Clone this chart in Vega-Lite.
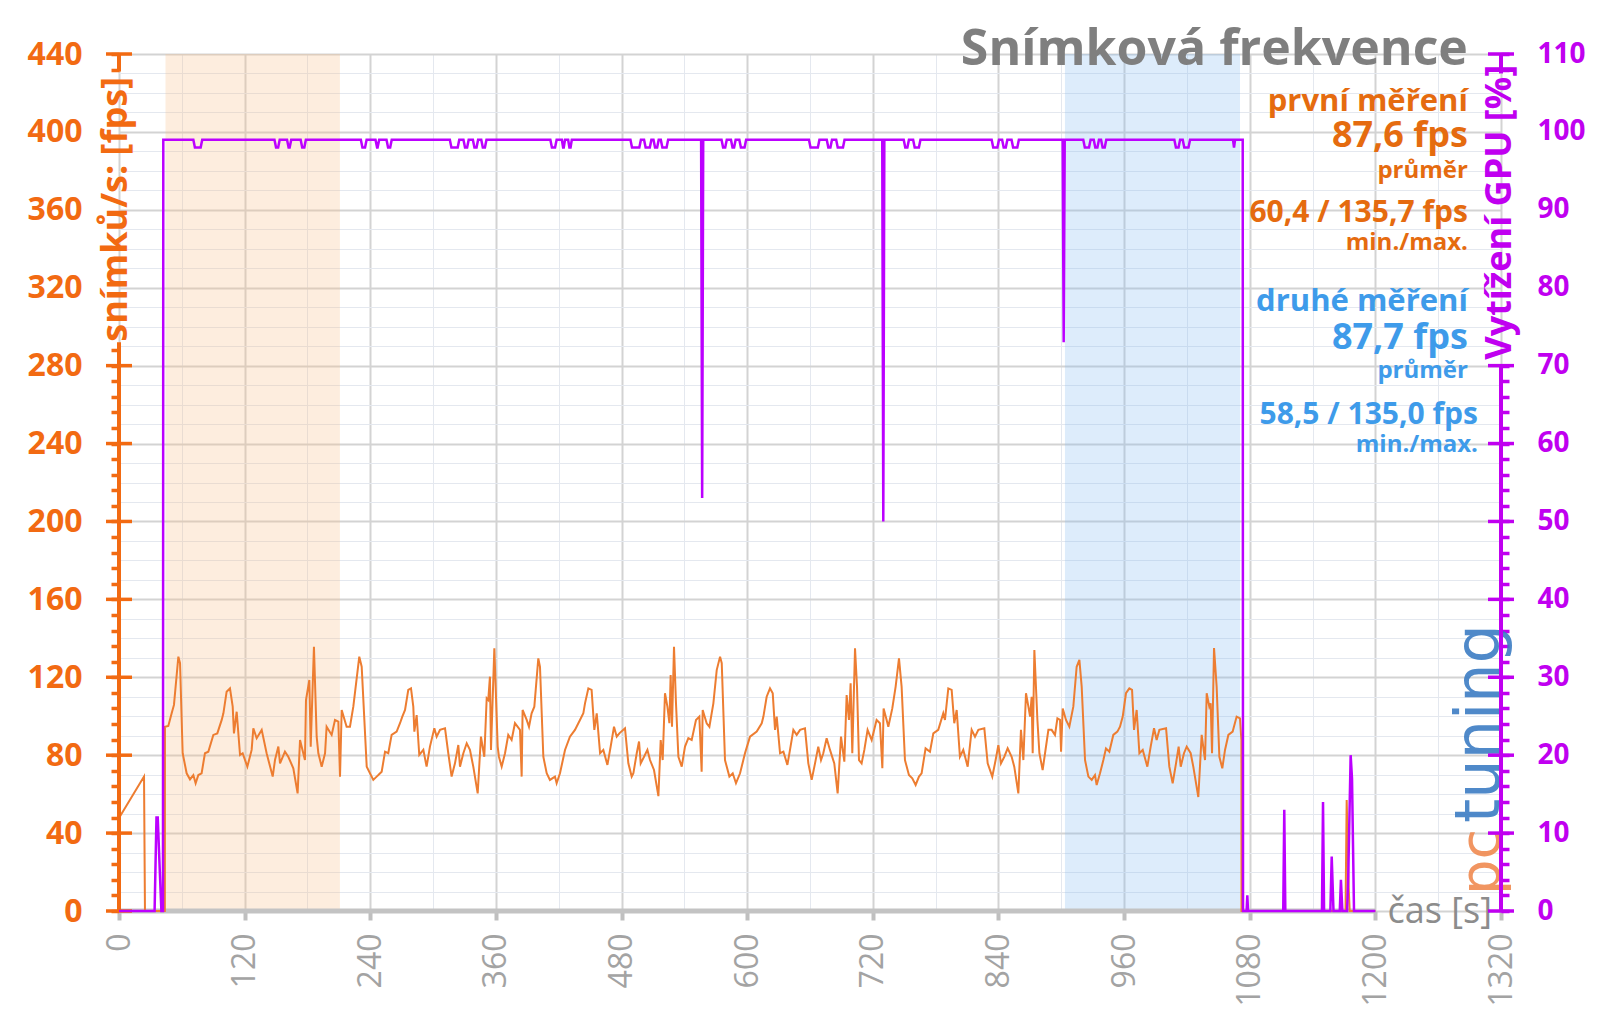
{
  "$schema": "https://vega.github.io/schema/vega-lite/v6.json",
  "width": 1382,
  "height": 857,
  "autosize": {"type": "none"},
  "padding": {"left": 119, "top": 54, "right": 99, "bottom": 98},
  "background": "white",
  "config": {"view": {"stroke": null}, "font": "Open Sans"},
  "datasets": {
    "runs": [
      {"run": "první měření", "start": 44.4, "end": 211},
      {"run": "druhé měření", "start": 903.5, "end": 1070.7}
    ],
    "fpsTicks": [{"v":0},{"v":40},{"v":80},{"v":120},{"v":160},{"v":200},{"v":240},{"v":280},{"v":440}],
    "gpuTicks": [{"v":0},{"v":10},{"v":20},{"v":30},{"v":40},{"v":50},{"v":60},{"v":70},{"v":110}],
    "fps": [
      {"t":0,"fps":47.7},{"t":23.9,"fps":69},{"t":24.8,"fps":0},{"t":43.8,"fps":0},{"t":43.9,"fps":94.6},
      {"t":47.1,"fps":95},{"t":50.3,"fps":101.5},{"t":52.5,"fps":105.8},{"t":56.7,"fps":130.6},{"t":58.3,"fps":127.2},
      {"t":60.8,"fps":81},{"t":64.6,"fps":70.7},{"t":67.8,"fps":67.6},{"t":71,"fps":69.8},{"t":73.2,"fps":65.6},
      {"t":75.8,"fps":69.8},{"t":78.9,"fps":70.7},{"t":82.1,"fps":81},{"t":85.3,"fps":81.8},{"t":90.1,"fps":90.4},
      {"t":93.9,"fps":91.2},{"t":98.1,"fps":98.1},{"t":99.7,"fps":101.5},{"t":102.8,"fps":112.6},{"t":106,"fps":114.3},
      {"t":108.6,"fps":104.9},{"t":109.8,"fps":91.2},{"t":112.4,"fps":102.3},{"t":115.6,"fps":80.1},{"t":118.1,"fps":81},
      {"t":122.6,"fps":74.1},{"t":126.7,"fps":82.7},{"t":128.3,"fps":93.8},{"t":131.5,"fps":88.7},{"t":136.3,"fps":93},
      {"t":141,"fps":81},{"t":146.8,"fps":69},{"t":149,"fps":77.5},{"t":152.2,"fps":84.4},{"t":153.8,"fps":75.8},
      {"t":158.5,"fps":81.8},{"t":161.7,"fps":79.2},{"t":166.5,"fps":73.3},{"t":170.6,"fps":60.4},{"t":172.9,"fps":87.8},
      {"t":177.6,"fps":77.5},{"t":178.6,"fps":108.3},{"t":181.8,"fps":118.6},{"t":183.1,"fps":84.4},{"t":186.2,"fps":135.7},
      {"t":188.8,"fps":89.5},{"t":190.4,"fps":81},{"t":193.6,"fps":74.1},{"t":196.8,"fps":81},{"t":198.3,"fps":94.6},
      {"t":203.1,"fps":90.4},{"t":206.3,"fps":98.1},{"t":209.5,"fps":97.2},{"t":211.1,"fps":69},{"t":212.7,"fps":103.2},
      {"t":217.4,"fps":94.6},{"t":220.6,"fps":94.6},{"t":223.8,"fps":104.9},{"t":229.5,"fps":130.6},{"t":231.8,"fps":125.4},
      {"t":236.6,"fps":74.1},{"t":242.9,"fps":67.3},{"t":246.1,"fps":69},{"t":247.7,"fps":69.8},{"t":250.9,"fps":71.5},
      {"t":254.1,"fps":81.8},{"t":257.2,"fps":81},{"t":260.4,"fps":90.4},{"t":265.2,"fps":92.1},{"t":268.4,"fps":96.4},
      {"t":270.6,"fps":99.8},{"t":273.2,"fps":103.2},{"t":276.3,"fps":113.5},{"t":278.9,"fps":114.3},{"t":281.1,"fps":104.9},
      {"t":282.1,"fps":92.1},{"t":284.3,"fps":100.6},{"t":286.8,"fps":80.1},{"t":290.7,"fps":82.7},{"t":293.8,"fps":74.1},
      {"t":297,"fps":84.4},{"t":301.2,"fps":93.8},{"t":303.4,"fps":89.5},{"t":306.6,"fps":93},{"t":311.4,"fps":93.8},
      {"t":314.5,"fps":81},{"t":317.7,"fps":69},{"t":320.9,"fps":75.8},{"t":324.1,"fps":85.2},{"t":325.7,"fps":74.1},
      {"t":328.9,"fps":81},{"t":332.1,"fps":86.1},{"t":335.2,"fps":82.7},{"t":338.4,"fps":74.1},{"t":342.6,"fps":60.4},
      {"t":345.7,"fps":89.5},{"t":348.9,"fps":79.2},{"t":351.2,"fps":109.2},{"t":352.7,"fps":108.3},{"t":354.3,"fps":120.3},
      {"t":355.3,"fps":82.7},{"t":358.5,"fps":134.9},{"t":361.7,"fps":84.4},{"t":362.9,"fps":79.2},{"t":365.5,"fps":74.1},
      {"t":368.7,"fps":81},{"t":371.8,"fps":90.4},{"t":375,"fps":87.8},{"t":378.2,"fps":96.4},{"t":383,"fps":93},
      {"t":384.6,"fps":69},{"t":385.5,"fps":103.2},{"t":389.4,"fps":98.1},{"t":391.6,"fps":94.6},{"t":394.1,"fps":101.5},
      {"t":396.7,"fps":104.9},{"t":400.5,"fps":129.7},{"t":402.1,"fps":125.4},{"t":405.3,"fps":79.2},{"t":408.5,"fps":70.7},
      {"t":411.6,"fps":67.3},{"t":416.4,"fps":69},{"t":418,"fps":65.6},{"t":421.2,"fps":70.7},{"t":426,"fps":82.7},
      {"t":430.7,"fps":89.5},{"t":435.5,"fps":93},{"t":440.3,"fps":98.1},{"t":443.5,"fps":101.5},{"t":445.1,"fps":106.6},
      {"t":448.3,"fps":114.3},{"t":451.4,"fps":113.5},{"t":454,"fps":93},{"t":456.3,"fps":101.5},{"t":459.5,"fps":81},
      {"t":462.6,"fps":82.7},{"t":466.5,"fps":75},{"t":469.6,"fps":84.4},{"t":472.8,"fps":94.6},{"t":475.4,"fps":89.5},
      {"t":477.9,"fps":91.2},{"t":483.3,"fps":93.8},{"t":486.5,"fps":75.8},{"t":489.7,"fps":69},{"t":491.3,"fps":70.7},
      {"t":494.5,"fps":81},{"t":496.7,"fps":87},{"t":498.3,"fps":75.8},{"t":501.5,"fps":79.2},{"t":504.7,"fps":82.7},
      {"t":507.2,"fps":77.5},{"t":511,"fps":72.4},{"t":515.2,"fps":59},{"t":517.4,"fps":87.8},{"t":519.3,"fps":77.5},
      {"t":521.5,"fps":111.8},{"t":523.8,"fps":104.9},{"t":525.7,"fps":96.4},{"t":526.9,"fps":121.2},{"t":528.2,"fps":94.6},
      {"t":530.1,"fps":135.7},{"t":532,"fps":106.6},{"t":534.3,"fps":79.2},{"t":537.5,"fps":74.1},{"t":540.6,"fps":84.4},
      {"t":543.8,"fps":88.7},{"t":547,"fps":87.8},{"t":551.1,"fps":98.1},{"t":554.3,"fps":99.8},{"t":556.5,"fps":71.5},
      {"t":557.5,"fps":103.2},{"t":561.3,"fps":96.4},{"t":563.9,"fps":94.6},{"t":567.7,"fps":106.6},{"t":570.9,"fps":123.7},
      {"t":574.1,"fps":130.6},{"t":575.7,"fps":127.2},{"t":578.8,"fps":77.5},{"t":583,"fps":69},{"t":586.2,"fps":70.7},
      {"t":589.3,"fps":65.6},{"t":593.2,"fps":70.7},{"t":597.9,"fps":81},{"t":602.7,"fps":89.5},{"t":609.1,"fps":92.1},
      {"t":613.9,"fps":96.4},{"t":615.5,"fps":99.8},{"t":618.6,"fps":110},{"t":621.8,"fps":114.3},{"t":624.4,"fps":111.8},
      {"t":626.6,"fps":93},{"t":628.2,"fps":99.8},{"t":631.4,"fps":81},{"t":634.6,"fps":81.8},{"t":638.4,"fps":75},
      {"t":640.9,"fps":82.7},{"t":644.1,"fps":93},{"t":647.3,"fps":90.4},{"t":650.5,"fps":93},{"t":655.2,"fps":93.8},
      {"t":658.4,"fps":75.8},{"t":661.6,"fps":67.3},{"t":664.8,"fps":75.8},{"t":667.9,"fps":84.4},{"t":670.5,"fps":77.5},
      {"t":672.7,"fps":81},{"t":675.9,"fps":88.7},{"t":679.1,"fps":82.7},{"t":683.2,"fps":75.8},{"t":686.4,"fps":60.4},
      {"t":689.6,"fps":89.5},{"t":692.8,"fps":76.7},{"t":695,"fps":110.9},{"t":697.2,"fps":98.1},{"t":698.8,"fps":116.9},
      {"t":700.4,"fps":81},{"t":703,"fps":134.9},{"t":704.9,"fps":115.2},{"t":706.8,"fps":77.5},{"t":709.3,"fps":75.8},
      {"t":711.9,"fps":82.7},{"t":715,"fps":93},{"t":718.9,"fps":87.8},{"t":723.6,"fps":98.1},{"t":726.8,"fps":96.4},
      {"t":729.1,"fps":73.3},{"t":730.3,"fps":104},{"t":733.2,"fps":98.1},{"t":734.8,"fps":94.6},{"t":738.6,"fps":104},
      {"t":741.8,"fps":115.2},{"t":745,"fps":129.7},{"t":747.5,"fps":115.2},{"t":750.7,"fps":77.5},{"t":754.5,"fps":69.8},
      {"t":757.7,"fps":68.1},{"t":760.9,"fps":64.7},{"t":764.1,"fps":69},{"t":766.6,"fps":70.7},{"t":770.4,"fps":83.5},
      {"t":774.6,"fps":81.8},{"t":777.8,"fps":91.2},{"t":782.5,"fps":93},{"t":787.3,"fps":101.5},{"t":788.9,"fps":98.1},
      {"t":792.1,"fps":114.3},{"t":795.3,"fps":113.5},{"t":797.8,"fps":96.4},{"t":800.1,"fps":103.2},{"t":803.2,"fps":79.2},
      {"t":806.4,"fps":82.7},{"t":810.6,"fps":74.1},{"t":814.4,"fps":93},{"t":817.6,"fps":89.5},{"t":820.8,"fps":93},
      {"t":826.5,"fps":93.8},{"t":829.7,"fps":75.8},{"t":834.1,"fps":69},{"t":837.3,"fps":77.5},{"t":839.9,"fps":85.2},
      {"t":842.4,"fps":75.8},{"t":845.6,"fps":79.2},{"t":848.8,"fps":83.5},{"t":852.6,"fps":79.2},{"t":855.1,"fps":74.1},
      {"t":859,"fps":60.4},{"t":861.5,"fps":93},{"t":863.8,"fps":77.5},{"t":866.3,"fps":111.8},{"t":868.6,"fps":104.9},
      {"t":870.2,"fps":99.8},{"t":871.7,"fps":110},{"t":872.7,"fps":81},{"t":874.3,"fps":134},{"t":877.2,"fps":98.1},
      {"t":879.1,"fps":81},{"t":882.2,"fps":72.4},{"t":884.5,"fps":81},{"t":887.7,"fps":93},{"t":890.8,"fps":93},
      {"t":894,"fps":90.4},{"t":896.3,"fps":98.9},{"t":898.8,"fps":98.1},{"t":899.8,"fps":81.8},{"t":901.4,"fps":104},
      {"t":904.5,"fps":98.1},{"t":907.7,"fps":94.6},{"t":911.5,"fps":104.9},{"t":914.7,"fps":125.4},{"t":917.3,"fps":128.9},
      {"t":919.5,"fps":115.2},{"t":922.7,"fps":77.5},{"t":925.9,"fps":69},{"t":929.1,"fps":67.3},{"t":932.2,"fps":69.8},
      {"t":933.8,"fps":64.7},{"t":937,"fps":70.7},{"t":940.2,"fps":77.5},{"t":942.7,"fps":83.5},{"t":945.9,"fps":81.8},
      {"t":949.7,"fps":90.4},{"t":953.6,"fps":92.1},{"t":956.1,"fps":94.6},{"t":958.7,"fps":99.8},{"t":961.8,"fps":111.8},
      {"t":965,"fps":114.3},{"t":967.6,"fps":113.5},{"t":969.5,"fps":93},{"t":972,"fps":103.2},{"t":974.6,"fps":81},
      {"t":977.8,"fps":82.7},{"t":982.2,"fps":74.1},{"t":985.4,"fps":84.4},{"t":988.6,"fps":93.8},{"t":991.1,"fps":87.8},
      {"t":993.7,"fps":93},{"t":1000.1,"fps":93.8},{"t":1003.2,"fps":74.1},{"t":1006.4,"fps":65.6},{"t":1009.6,"fps":75.8},
      {"t":1012.1,"fps":84.4},{"t":1014.1,"fps":74.1},{"t":1017.2,"fps":81},{"t":1019.8,"fps":84.4},{"t":1023.6,"fps":81},
      {"t":1026.1,"fps":74.1},{"t":1030.9,"fps":58.5},{"t":1034.1,"fps":90.4},{"t":1037.3,"fps":77.5},{"t":1038.9,"fps":111.8},
      {"t":1041.4,"fps":104.9},{"t":1042.7,"fps":106.6},{"t":1044,"fps":81},{"t":1045.9,"fps":135},{"t":1048.4,"fps":115.2},
      {"t":1051,"fps":79.2},{"t":1053.8,"fps":73.3},{"t":1056.4,"fps":82.7},{"t":1059.6,"fps":90.4},{"t":1063.7,"fps":92.1},
      {"t":1067.5,"fps":99.8},{"t":1070.7,"fps":98.9},{"t":1072,"fps":87.8},{"t":1072.1,"fps":0},{"t":1171.5,"fps":0},
      {"t":1172.6,"fps":57},{"t":1174.5,"fps":12},{"t":1175.5,"fps":0},{"t":1200,"fps":0}
    ],
    "gpu": [
      {"t":0,"gpu":0},{"t":34,"gpu":0},{"t":35.8,"gpu":12},{"t":37,"gpu":12},{"t":39,"gpu":5},{"t":40.5,"gpu":0},{"t":42,"gpu":0},{"t":42.3,"gpu":99},
      {"t":71,"gpu":99},{"t":72.5,"gpu":98},{"t":78,"gpu":98},{"t":79.5,"gpu":99},
      {"t":148.5,"gpu":99},{"t":150,"gpu":98},{"t":152,"gpu":98},{"t":153.5,"gpu":99},
      {"t":160.5,"gpu":99},{"t":162,"gpu":98},{"t":163,"gpu":98},{"t":164.5,"gpu":99},
      {"t":173.5,"gpu":99},{"t":175,"gpu":98},{"t":177,"gpu":98},{"t":178.5,"gpu":99},
      {"t":231,"gpu":99},{"t":232.5,"gpu":98},{"t":235,"gpu":98},{"t":236.5,"gpu":99},
      {"t":245,"gpu":99},{"t":246.5,"gpu":98},{"t":247,"gpu":98},{"t":248.5,"gpu":99},
      {"t":255.5,"gpu":99},{"t":257,"gpu":98},{"t":259,"gpu":98},{"t":260.5,"gpu":99},
      {"t":316,"gpu":99},{"t":317.5,"gpu":98},{"t":323.5,"gpu":98},{"t":325,"gpu":99},
      {"t":329,"gpu":99},{"t":330.5,"gpu":98},{"t":332.5,"gpu":98},{"t":334,"gpu":99},
      {"t":338,"gpu":99},{"t":339.5,"gpu":98},{"t":341.5,"gpu":98},{"t":343,"gpu":99},
      {"t":346,"gpu":99},{"t":347.5,"gpu":98},{"t":349.5,"gpu":98},{"t":351,"gpu":99},
      {"t":412,"gpu":99},{"t":413.5,"gpu":98},{"t":416.5,"gpu":98},{"t":418,"gpu":99},
      {"t":423,"gpu":99},{"t":424.2,"gpu":98},{"t":424.8,"gpu":98},{"t":426,"gpu":99},
      {"t":429,"gpu":99},{"t":430.2,"gpu":98},{"t":431.3,"gpu":98},{"t":432.5,"gpu":99},
      {"t":488.5,"gpu":99},{"t":490,"gpu":98},{"t":497,"gpu":98},{"t":498.5,"gpu":99},
      {"t":501.5,"gpu":99},{"t":503,"gpu":98},{"t":507,"gpu":98},{"t":508.5,"gpu":99},
      {"t":510.5,"gpu":99},{"t":512,"gpu":98},{"t":514,"gpu":98},{"t":515.5,"gpu":99},
      {"t":517.5,"gpu":99},{"t":519,"gpu":98},{"t":523,"gpu":98},{"t":524.5,"gpu":99},
      {"t":556,"gpu":99},{"t":557,"gpu":53},{"t":558,"gpu":99},
      {"t":575.5,"gpu":99},{"t":577,"gpu":98},{"t":579,"gpu":98},{"t":580.5,"gpu":99},
      {"t":584.5,"gpu":99},{"t":586,"gpu":98},{"t":587.5,"gpu":98},{"t":589,"gpu":99},
      {"t":592.5,"gpu":99},{"t":594,"gpu":98},{"t":597.5,"gpu":98},{"t":599,"gpu":99},
      {"t":659,"gpu":99},{"t":660.5,"gpu":98},{"t":667.5,"gpu":98},{"t":669,"gpu":99},
      {"t":676,"gpu":99},{"t":677.5,"gpu":98},{"t":679.5,"gpu":98},{"t":681,"gpu":99},
      {"t":685,"gpu":99},{"t":686.5,"gpu":98},{"t":691.5,"gpu":98},{"t":693,"gpu":99},
      {"t":729,"gpu":99},{"t":730,"gpu":50},{"t":731,"gpu":99},
      {"t":749.5,"gpu":99},{"t":751,"gpu":98},{"t":753,"gpu":98},{"t":754.5,"gpu":99},
      {"t":758.5,"gpu":99},{"t":760,"gpu":98},{"t":764,"gpu":98},{"t":765.5,"gpu":99},
      {"t":833.5,"gpu":99},{"t":835,"gpu":98},{"t":839,"gpu":98},{"t":840.5,"gpu":99},
      {"t":843.5,"gpu":99},{"t":845,"gpu":98},{"t":847,"gpu":98},{"t":848.5,"gpu":99},
      {"t":852.5,"gpu":99},{"t":854,"gpu":98},{"t":858,"gpu":98},{"t":859.5,"gpu":99},
      {"t":901.3,"gpu":99},{"t":902.3,"gpu":73},{"t":903.3,"gpu":99},
      {"t":921,"gpu":99},{"t":922.5,"gpu":98},{"t":926.5,"gpu":98},{"t":928,"gpu":99},
      {"t":931,"gpu":99},{"t":932.5,"gpu":98},{"t":934.5,"gpu":98},{"t":936,"gpu":99},
      {"t":938,"gpu":99},{"t":939.5,"gpu":98},{"t":941.5,"gpu":98},{"t":943,"gpu":99},
      {"t":1008,"gpu":99},{"t":1009.5,"gpu":98},{"t":1012,"gpu":98},{"t":1013.5,"gpu":99},
      {"t":1016,"gpu":99},{"t":1017.5,"gpu":98},{"t":1021.5,"gpu":98},{"t":1023,"gpu":99},
      {"t":1064,"gpu":99},{"t":1065,"gpu":98},{"t":1066,"gpu":99},
      {"t":1073.3,"gpu":99},{"t":1073.6,"gpu":0},
      {"t":1077,"gpu":0},{"t":1077.7,"gpu":2},{"t":1078.4,"gpu":0},
      {"t":1112,"gpu":0},{"t":1113,"gpu":13},{"t":1114,"gpu":0},
      {"t":1149,"gpu":0},{"t":1150,"gpu":14},{"t":1151,"gpu":0},
      {"t":1157,"gpu":0},{"t":1158.3,"gpu":7},{"t":1160,"gpu":0},
      {"t":1166,"gpu":0},{"t":1167.1,"gpu":4},{"t":1168.5,"gpu":0},
      {"t":1173,"gpu":0},{"t":1174.1,"gpu":4.5},{"t":1176.4,"gpu":20},{"t":1177.7,"gpu":17},{"t":1179.6,"gpu":0},
      {"t":1200,"gpu":0}
    ]
  },
  "layer": [
    {
      "data": {"name": "runs"},
      "mark": {"type": "rect", "fillOpacity": 0.28},
      "encoding": {
        "x": {"field": "start", "type": "quantitative", "scale": {"domain": [0, 1320], "nice": false, "zero": false}},
        "x2": {"field": "end"},
        "color": {"field": "run", "type": "nominal", "scale": {"domain": ["první měření", "druhé měření"], "range": ["#F8BF89", "#86BBF1"]}, "legend": null}
      }
    },
    {
      "data": {"values": [{}]},
      "mark": {"type": "rule", "color": "#C3C3C3", "strokeWidth": 5},
      "encoding": {"x": {"datum": 0}, "x2": {"datum": 1200}, "y": {"datum": 0, "scale": {"domain": [0, 440], "nice": false}, "axis": null}}
    },
    {
      "data": {"name": "fps"},
      "mark": {"type": "line", "color": "#ED7D31", "strokeWidth": 2},
      "encoding": {
        "x": {
          "field": "t", "type": "quantitative",
          "scale": {"domain": [0, 1320], "nice": false, "zero": false},
          "axis": {
            "values": [0,15,30,45,60,75,90,105,120,135,150,165,180,195,210,225,240,255,270,285,300,315,330,345,360,375,390,405,420,435,450,465,480,495,510,525,540,555,570,585,600,615,630,645,660,675,690,705,720,735,750,765,780,795,810,825,840,855,870,885,900,915,930,945,960,975,990,1005,1020,1035,1050,1065,1080,1095,1110,1125,1140,1155,1170,1185,1200,1215,1230,1245,1260,1275,1290,1305,1320],
            "format": "d",
            "grid": true,
            "gridColor": {"condition": {"test": "datum.value % 120 === 0", "value": "#D3D3D3"}, "value": "#E4E8EF"},
            "gridWidth": {"condition": {"test": "datum.value % 120 === 0", "value": 2}, "value": 1},
            "domain": false,
            "ticks": true,
            "tickColor": "#BFBFBF",
            "tickWidth": 4,
            "tickSize": 9,
            "tickOpacity": {"condition": {"test": "datum.value % 120 === 0", "value": 1}, "value": 0},
            "labelExpr": "datum.value % 120 === 0 ? datum.label : ''",
            "labelAngle": 270,
            "labelAlign": "right",
            "labelBaseline": "middle",
            "labelFont": "Open Sans",
            "labelFontSize": 32,
            "labelColor": "#A3A3A3",
            "labelPadding": 13,
            "labelOverlap": false,
            "labelBound": false,
            "labelFlush": false,
            "title": "čas [s]",
            "titleX": 1268,
            "titleY": 11,
            "titleAlign": "left",
            "titleBaseline": "alphabetic",
            "titleAngle": 0,
            "titleFont": "Open Sans",
            "titleFontSize": 36,
            "titleFontWeight": "normal",
            "titleColor": "#8C8C8C"
          }
        },
        "y": {
          "field": "fps", "type": "quantitative",
          "scale": {"domain": [0, 440], "nice": false},
          "axis": {
            "orient": "left",
            "values": [0,8,10,16,20,24,30,32,40,48,50,56,60,64,70,72,80,88,90,96,100,104,110,112,120,128,130,136,140,144,150,152,160,168,170,176,180,184,190,192,200,208,210,216,220,224,230,232,240,248,250,256,260,264,270,272,280,288,290,296,300,304,310,312,320,328,330,336,340,344,350,352,360,368,370,376,380,384,390,392,400,408,410,416,420,424,430,432,440],
            "format": "d",
            "grid": true,
            "gridColor": {"condition": {"test": "datum.value % 40 === 0", "value": "#D3D3D3"}, "value": "#E4E8EF"},
            "gridWidth": {"condition": {"test": "datum.value % 40 === 0", "value": 2}, "value": 1},
            "gridOpacity": {"condition": {"test": "datum.value % 10 === 0", "value": 1}, "value": 0},
            "domain": false,
            "ticks": true,
            "tickColor": "#F26A12",
            "tickWidth": 3.5,
            "tickSize": 8,
            "tickOpacity": {"condition": {"test": "datum.value % 8 === 0 && (datum.value <= 292 || datum.value >= 431)", "value": 1}, "value": 0},
            "labelExpr": "datum.value % 40 === 0 ? datum.label : ''",
            "labelFont": "Open Sans",
            "labelFontSize": 32,
            "labelFontWeight": "bold",
            "labelColor": "#F26A12",
            "labelPadding": 29,
            "labelOverlap": false,
            "labelBound": false,
            "labelFlush": false,
            "title": null
          }
        }
      }
    },
    {
      "data": {"values": [{}]},
      "mark": {"type": "rule", "color": "#F26A12", "strokeWidth": 4},
      "encoding": {"x": {"datum": 0}, "y": {"datum": 0, "scale": {"domain": [0, 440], "nice": false}, "axis": null}, "y2": {"datum": 292}}
    },
    {
      "data": {"values": [{}]},
      "mark": {"type": "rule", "color": "#F26A12", "strokeWidth": 4},
      "encoding": {"x": {"datum": 0}, "y": {"datum": 431, "scale": {"domain": [0, 440], "nice": false}, "axis": null}, "y2": {"datum": 440}}
    },
    {
      "data": {"name": "fpsTicks"},
      "mark": {"type": "tick", "orient": "horizontal", "color": "#F26A12", "thickness": 3.5, "size": 26, "opacity": 1},
      "encoding": {"x": {"datum": 0}, "y": {"field": "v", "type": "quantitative", "scale": {"domain": [0, 440], "nice": false}, "axis": null}}
    },
    {
      "data": {"values": [{}]},
      "mark": {"type": "text", "text": "snímků/s: [fps]", "align": "right", "baseline": "alphabetic", "angle": 270, "font": "Open Sans", "fontSize": 36, "fontWeight": "bold", "color": "#F26A12"},
      "encoding": {"x": {"datum": 7.8}, "y": {"datum": 428.2, "scale": {"domain": [0, 440], "nice": false}, "axis": null}}
    },
    {
      "data": {"values": [{}]},
      "mark": {"type": "text", "text": "Snímková frekvence", "align": "right", "baseline": "alphabetic", "font": "Open Sans", "fontSize": 50, "fontWeight": "bold", "color": "#7F7F7F"},
      "encoding": {"x": {"datum": 1288.4}, "y": {"datum": 434.3, "scale": {"domain": [0, 440], "nice": false}, "axis": null}}
    },
    {
      "data": {"values": [{}]},
      "mark": {"type": "text", "text": "první měření", "align": "right", "baseline": "alphabetic", "font": "Open Sans", "fontSize": 31, "fontWeight": "bold", "color": "#E56B0F"},
      "encoding": {"x": {"datum": 1288.4}, "y": {"datum": 410.8, "scale": {"domain": [0, 440], "nice": false}, "axis": null}}
    },
    {
      "data": {"values": [{}]},
      "mark": {"type": "text", "text": "87,6 fps", "align": "right", "baseline": "alphabetic", "font": "Open Sans", "fontSize": 36, "fontWeight": "bold", "color": "#E56B0F"},
      "encoding": {"x": {"datum": 1288.4}, "y": {"datum": 392.5, "scale": {"domain": [0, 440], "nice": false}, "axis": null}}
    },
    {
      "data": {"values": [{}]},
      "mark": {"type": "text", "text": "průměr", "align": "right", "baseline": "alphabetic", "font": "Open Sans", "fontSize": 24, "fontWeight": "bold", "color": "#E56B0F"},
      "encoding": {"x": {"datum": 1288.4}, "y": {"datum": 376.4, "scale": {"domain": [0, 440], "nice": false}, "axis": null}}
    },
    {
      "data": {"values": [{}]},
      "mark": {"type": "text", "text": "60,4 / 135,7 fps", "align": "right", "baseline": "alphabetic", "font": "Open Sans", "fontSize": 30, "fontWeight": "bold", "color": "#E56B0F"},
      "encoding": {"x": {"datum": 1288.4}, "y": {"datum": 353.6, "scale": {"domain": [0, 440], "nice": false}, "axis": null}}
    },
    {
      "data": {"values": [{}]},
      "mark": {"type": "text", "text": "min./max.", "align": "right", "baseline": "alphabetic", "font": "Open Sans", "fontSize": 24, "fontWeight": "bold", "color": "#E56B0F"},
      "encoding": {"x": {"datum": 1288.4}, "y": {"datum": 339.3, "scale": {"domain": [0, 440], "nice": false}, "axis": null}}
    },
    {
      "data": {"values": [{}]},
      "mark": {"type": "text", "text": "druhé měření", "align": "right", "baseline": "alphabetic", "font": "Open Sans", "fontSize": 31, "fontWeight": "bold", "color": "#3E9BEA"},
      "encoding": {"x": {"datum": 1288.4}, "y": {"datum": 307.9, "scale": {"domain": [0, 440], "nice": false}, "axis": null}}
    },
    {
      "data": {"values": [{}]},
      "mark": {"type": "text", "text": "87,7 fps", "align": "right", "baseline": "alphabetic", "font": "Open Sans", "fontSize": 36, "fontWeight": "bold", "color": "#3E9BEA"},
      "encoding": {"x": {"datum": 1288.4}, "y": {"datum": 288.4, "scale": {"domain": [0, 440], "nice": false}, "axis": null}}
    },
    {
      "data": {"values": [{}]},
      "mark": {"type": "text", "text": "průměr", "align": "right", "baseline": "alphabetic", "font": "Open Sans", "fontSize": 24, "fontWeight": "bold", "color": "#3E9BEA"},
      "encoding": {"x": {"datum": 1288.4}, "y": {"datum": 273.7, "scale": {"domain": [0, 440], "nice": false}, "axis": null}}
    },
    {
      "data": {"values": [{}]},
      "mark": {"type": "text", "text": "58,5 / 135,0 fps", "align": "right", "baseline": "alphabetic", "font": "Open Sans", "fontSize": 30, "fontWeight": "bold", "color": "#3E9BEA"},
      "encoding": {"x": {"datum": 1298}, "y": {"datum": 249.9, "scale": {"domain": [0, 440], "nice": false}, "axis": null}}
    },
    {
      "data": {"values": [{}]},
      "mark": {"type": "text", "text": "min./max.", "align": "right", "baseline": "alphabetic", "font": "Open Sans", "fontSize": 24, "fontWeight": "bold", "color": "#3E9BEA"},
      "encoding": {"x": {"datum": 1298}, "y": {"datum": 235.6, "scale": {"domain": [0, 440], "nice": false}, "axis": null}}
    },
    {
      "data": {"values": [{}]},
      "mark": {"type": "text", "text": "pc", "align": "left", "baseline": "alphabetic", "angle": 270, "font": "DejaVu Sans", "fontSize": 56, "color": "#F08A50", "opacity": 0.9},
      "encoding": {"x": {"datum": 1318}, "y": {"datum": 8.2, "scale": {"domain": [0, 440], "nice": false}, "axis": null}}
    },
    {
      "data": {"values": [{}]},
      "mark": {"type": "text", "text": "tuning", "align": "left", "baseline": "alphabetic", "angle": 270, "font": "DejaVu Sans", "fontSize": 62, "color": "#3C7DC4", "opacity": 0.9},
      "encoding": {"x": {"datum": 1318}, "y": {"datum": 45.2, "scale": {"domain": [0, 440], "nice": false}, "axis": null}}
    },
    {
      "data": {"name": "gpu"},
      "mark": {"type": "line", "color": "#BC00FF", "strokeWidth": 2.5},
      "encoding": {
        "x": {"field": "t", "type": "quantitative"},
        "y": {
          "field": "gpu", "type": "quantitative",
          "scale": {"domain": [0, 110], "nice": false},
          "axis": {
            "orient": "right",
            "values": [0,2,4,6,8,10,12,14,16,18,20,22,24,26,28,30,32,34,36,38,40,42,44,46,48,50,52,54,56,58,60,62,64,66,68,70,72,74,76,78,80,82,84,86,88,90,92,94,96,98,100,102,104,106,108,110],
            "format": "d",
            "grid": false,
            "domain": false,
            "ticks": true,
            "tickColor": "#C000F0",
            "tickWidth": 3.5,
            "tickSize": 8,
            "tickOpacity": {"condition": {"test": "datum.value <= 70 || datum.value >= 108", "value": 1}, "value": 0},
            "labelExpr": "datum.value % 10 === 0 ? datum.label : ''",
            "labelFont": "Open Sans",
            "labelFontSize": 28,
            "labelFontWeight": "bold",
            "labelColor": "#C000F0",
            "labelPadding": 28,
            "labelOverlap": false,
            "labelBound": false,
            "labelFlush": false,
            "title": null
          }
        }
      }
    },
    {
      "data": {"values": [{}]},
      "mark": {"type": "rule", "color": "#C000F0", "strokeWidth": 4},
      "encoding": {"x": {"datum": 1320}, "y": {"datum": 0, "scale": {"domain": [0, 110], "nice": false}, "axis": null}, "y2": {"datum": 70}}
    },
    {
      "data": {"values": [{}]},
      "mark": {"type": "rule", "color": "#C000F0", "strokeWidth": 4},
      "encoding": {"x": {"datum": 1320}, "y": {"datum": 107.5, "scale": {"domain": [0, 110], "nice": false}, "axis": null}, "y2": {"datum": 110}}
    },
    {
      "data": {"name": "gpuTicks"},
      "mark": {"type": "tick", "orient": "horizontal", "color": "#C000F0", "thickness": 3.5, "size": 26, "opacity": 1},
      "encoding": {"x": {"datum": 1320}, "y": {"field": "v", "type": "quantitative", "scale": {"domain": [0, 110], "nice": false}, "axis": null}}
    },
    {
      "data": {"values": [{}]},
      "mark": {"type": "text", "text": "Vytížení GPU [%]", "align": "right", "baseline": "alphabetic", "angle": 270, "font": "Open Sans", "fontSize": 36, "fontWeight": "bold", "color": "#C000F0"},
      "encoding": {"x": {"datum": 1329.5}, "y": {"datum": 108.6, "scale": {"domain": [0, 110], "nice": false}, "axis": null}}
    }
  ],
  "resolve": {"scale": {"y": "independent"}}
}
